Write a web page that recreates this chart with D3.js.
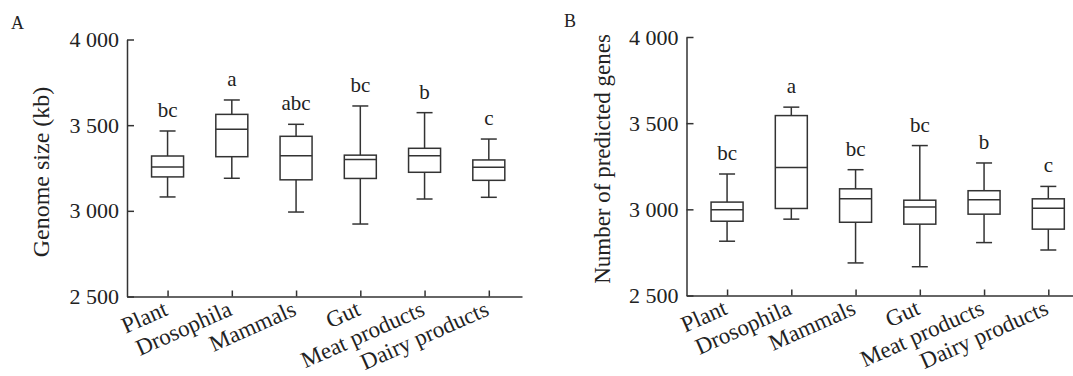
<!DOCTYPE html>
<html>
<head>
<meta charset="utf-8">
<script src="https://cdn.jsdelivr.net/npm/d3@7"></script>
<style>
  body { margin: 0; background: #fff; }
  svg { display: block; font-family: "Liberation Serif", "Times New Roman", serif; }
  .axis path, .axis line { stroke: #333; stroke-width: 1.5; }
  .axis text { font-family: "Liberation Serif", serif; fill: #222; }
  .box { fill: none; stroke: #333; stroke-width: 1.5; }
</style>
</head>
<body>
<svg id="chart" width="1073" height="376"></svg>
<script>
/////////////////////////// Data ///////////////////////////

const categories = ["Plant", "Drosophila", "Mammals", "Gut", "Meat products", "Dairy products"];

// A: genome size (kb)
const genomeMax    = [3466, 3647, 3505, 3612, 3573, 3419];
const genomeQ3     = [3320, 3563, 3435, 3325, 3365, 3297];
const genomeMedian = [3256, 3476, 3321, 3300, 3322, 3254];
const genomeQ1     = [3198, 3316, 3181, 3189, 3225, 3178];
const genomeMin    = [3081, 3190, 2993, 2923, 3069, 3079];
const genomeLetters = ["bc", "a", "abc", "bc", "b", "c"];

// B: number of predicted genes
const genesMax    = [3205, 3593, 3230, 3370, 3269, 3133];
const genesQ3     = [3042, 3544, 3119, 3053, 3108, 3061];
const genesMedian = [2997, 3243, 3061, 3013, 3055, 3007];
const genesQ1     = [2931, 3005, 2925, 2914, 2972, 2885];
const genesMin    = [2815, 2943, 2689, 2667, 2807, 2764];
const genesLetters = ["bc", "a", "bc", "bc", "b", "c"];

const yTicks = [2500, 3000, 3500, 4000];

/////////////////////////// Chart ///////////////////////////

const svg = d3.select("#chart");

// "4 000" style thousands
const fmt = d3.formatLocale({ decimal: ".", thousands: " ", grouping: [3], currency: ["", ""] }).format(",");

function drawPanel(opt) {
  const g = svg.append("g");

  const x = d3.scalePoint()
    .domain(categories)
    .range([opt.left, opt.right])
    .padding(0.574)
    .align(0.55);

  const y = d3.scaleLinear()
    .domain([2500, 4000])
    .range([opt.bottom, opt.top]);

  // y axis, ticks inward
  g.append("g")
    .attr("class", "axis")
    .attr("transform", `translate(${opt.left},0)`)
    .call(d3.axisLeft(y).tickValues(yTicks).tickFormat(fmt).tickSizeInner(-7).tickSizeOuter(0).tickPadding(8))
    .call(a => a.selectAll("text").attr("font-size", 22));

  // x axis, ticks inward, rotated labels
  g.append("g")
    .attr("class", "axis")
    .attr("transform", `translate(0,${opt.bottom})`)
    .call(d3.axisBottom(x).tickSizeInner(-6).tickSizeOuter(0))
    .call(a => a.selectAll("text")
      .attr("font-size", 23)
      .attr("text-anchor", "end")
      .attr("y", 0)
      .attr("dy", 0)
      .attr("transform", "translate(1,18) rotate(-24)"));

  // whiskers
  const w = 32, cap = 16;
  const idx = d3.range(categories.length);
  const boxes = g.selectAll(".bx").data(idx).enter().append("g").attr("class", "bx");

  boxes.append("line").attr("class", "box")
    .attr("x1", i => x(categories[i])).attr("x2", i => x(categories[i]))
    .attr("y1", i => y(opt.max[i])).attr("y2", i => y(opt.q3[i]));
  boxes.append("line").attr("class", "box")
    .attr("x1", i => x(categories[i])).attr("x2", i => x(categories[i]))
    .attr("y1", i => y(opt.q1[i])).attr("y2", i => y(opt.min[i]));
  boxes.append("line").attr("class", "box")
    .attr("x1", i => x(categories[i]) - cap / 2).attr("x2", i => x(categories[i]) + cap / 2)
    .attr("y1", i => y(opt.max[i])).attr("y2", i => y(opt.max[i]));
  boxes.append("line").attr("class", "box")
    .attr("x1", i => x(categories[i]) - cap / 2).attr("x2", i => x(categories[i]) + cap / 2)
    .attr("y1", i => y(opt.min[i])).attr("y2", i => y(opt.min[i]));

  // box + median
  boxes.append("rect").attr("class", "box")
    .attr("x", i => x(categories[i]) - w / 2)
    .attr("width", w)
    .attr("y", i => y(opt.q3[i]))
    .attr("height", i => y(opt.q1[i]) - y(opt.q3[i]));
  boxes.append("line").attr("class", "box")
    .attr("x1", i => x(categories[i]) - w / 2).attr("x2", i => x(categories[i]) + w / 2)
    .attr("y1", i => y(opt.median[i])).attr("y2", i => y(opt.median[i]));

  // significance letters
  boxes.append("text")
    .attr("x", i => x(categories[i]))
    .attr("y", i => y(opt.max[i]) - 14)
    .attr("text-anchor", "middle")
    .attr("font-size", 21)
    .attr("fill", "#222")
    .text(i => opt.letters[i]);

  // y title
  g.append("text")
    .attr("transform", `translate(${opt.titleX},${opt.titleY}) rotate(-90)`)
    .attr("text-anchor", "middle")
    .attr("font-size", opt.titleSize)
    .attr("fill", "#222")
    .text(opt.title);

  // panel letter
  g.append("text")
    .attr("x", opt.tagX).attr("y", opt.tagY)
    .attr("font-size", 18)
    .attr("fill", "#222")
    .text(opt.tag);
}

drawPanel({
  tag: "A", tagX: 11, tagY: 29,
  title: "Genome size (kb)", titleX: 49, titleY: 172, titleSize: 24,
  left: 127, right: 522, top: 39.5, bottom: 296.5,
  max: genomeMax, q3: genomeQ3, median: genomeMedian, q1: genomeQ1, min: genomeMin,
  letters: genomeLetters
});

drawPanel({
  tag: "B", tagX: 564, tagY: 27,
  title: "Number of predicted genes", titleX: 610, titleY: 159, titleSize: 23,
  left: 686.5, right: 1081.5, top: 37, bottom: 295.5,
  max: genesMax, q3: genesQ3, median: genesMedian, q1: genesQ1, min: genesMin,
  letters: genesLetters
});
</script>
</body>
</html>
